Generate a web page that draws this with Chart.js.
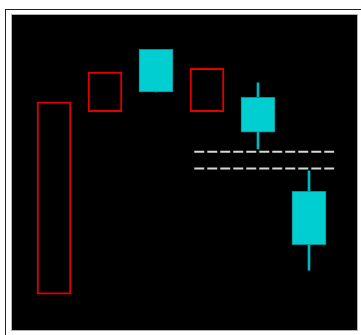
<!DOCTYPE html>
<html lang="en">
<head>
    <meta charset="UTF-8">
    <title>Candles</title>
    <script src="https://cdn.jsdelivr.net/npm/chart.js"></script>
    <style>
        html, body {
            margin: 0;
            padding: 0;
            background: #fff;
            width: 361px;
            height: 335px;
            overflow: hidden;
        }
        .outer {
            position: absolute;
            left: 5px;
            top: 9px;
            width: 400px;
            height: 400px;
            border-left: 1px solid #222;
            border-top: 1px solid #222;
        }
        .frame {
            position: absolute;
            left: 11px;
            top: 14px;
            width: 345px;
            height: 315px;
            border: 1px solid #b0b0b0;
            background: #000;
        }
        canvas { display: block; }
    </style>
</head>
<body>
    <div class="outer"></div>
    <div class="frame">
        <canvas id="candles" width="345" height="315"></canvas>
    </div>

    <script>
        // candle values (scale 0-100)
        const positions = [0, 1, 2, 3, 4, 5];
        const openVals  = [11.4, 69.3, 89.1, 69.3, 73.9, 44.0];
        const highVals  = [72.4, 81.9, 89.1, 83.1, 78.5, 50.5];
        const lowVals   = [11.4, 69.3, 75.6, 69.3, 57.5, 19.0];
        const closeVals = [72.4, 81.9, 75.6, 83.1, 62.8, 27.1];

        // gap between candle 5 low and candle 6 high
        const gapLevels = [56.6, 51.3];
        const gapFrom = 2.75;
        const gapTo = 5.5;

        const UP = '#e00000';
        const DOWN = '#00ced1';

        const isUp = openVals.map((o, i) => closeVals[i] > o);

        const bodies = positions.map((x, i) => ({ x: x, y: [openVals[i], closeVals[i]] }));
        const wicks = positions.map((x, i) => ({ x: x, y: [lowVals[i], highVals[i]] }));

        const gapSets = gapLevels.map(v => ({
            type: 'line',
            data: [{ x: gapFrom, y: v }, { x: gapTo, y: v }],
            borderColor: '#d6d6d6',
            borderWidth: 2,
            borderDash: [10, 3],
            pointRadius: 0,
            order: 0
        }));

        new Chart(document.getElementById('candles'), {
            type: 'bar',
            data: {
                datasets: [
                    {
                        data: wicks,
                        grouped: false,
                        barThickness: 2,
                        backgroundColor: isUp.map(u => u ? '#000' : '#00b8bc'),
                        borderWidth: 0,
                        order: 2
                    },
                    {
                        data: bodies,
                        grouped: false,
                        barThickness: 34,
                        backgroundColor: isUp.map(u => u ? '#000' : DOWN),
                        borderColor: isUp.map(u => u ? UP : '#0a8f94'),
                        borderWidth: isUp.map(u => u ? 2 : 1),
                        borderSkipped: false,
                        order: 1
                    },
                    ...gapSets
                ]
            },
            options: {
                responsive: false,
                animation: false,
                devicePixelRatio: 1,
                layout: {
                    padding: { left: 16.5, right: 22.5, top: 0, bottom: 0 }
                },
                plugins: {
                    legend: { display: false },
                    tooltip: { enabled: false }
                },
                scales: {
                    x: { type: 'linear', display: false, offset: false, min: -0.5, max: 5.5 },
                    y: { display: false, min: 0, max: 100 }
                }
            }
        });
    </script>
</body>
</html>
